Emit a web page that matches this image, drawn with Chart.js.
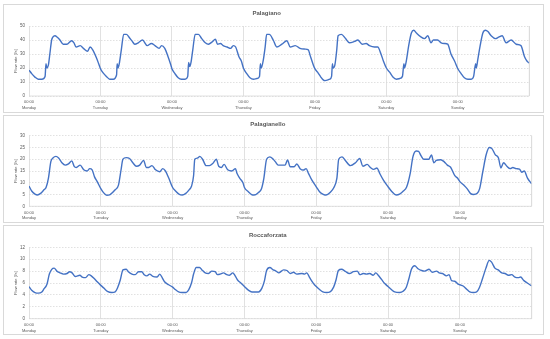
<!DOCTYPE html>
<html>
<head>
<meta charset="utf-8">
<script src="https://cdn.jsdelivr.net/npm/chart.js@4.4.1/dist/chart.umd.min.js"></script>
<style>
  html, body { margin: 0; padding: 0; background: #ffffff; }
  body { width: 550px; height: 339px; position: relative; overflow: hidden; }
  .panel { position: absolute; left: 3px; width: 539px; border: 1px solid #d9d9d9; background: #fff; }
  .panel canvas { display: block; }
</style>
</head>
<body>
<div class="panel" style="top:4px;height:107px;"><canvas id="c1" width="539" height="107"></canvas></div>
<div class="panel" style="top:115px;height:106px;"><canvas id="c2" width="539" height="106"></canvas></div>
<div class="panel" style="top:225px;height:108px;"><canvas id="c3" width="539" height="108"></canvas></div>
<script>
// ---- categories / tick labels ----
const dayNames = ['Monday', 'Tuesday', 'Wednesday', 'Thursday', 'Friday', 'Saturday', 'Sunday'];
const timeLabel = '00:00';
const titles = ['Palagiano', 'Palagianello', 'Roccaforzata'];
const yAxisTitle = 'Flow rate [l/s]';

// ---- Palagiano (hours from Monday 00:00, flow l/s) ----
const palagianoTime = [
  0, 0.9, 2, 3.1, 4.3, 5.4, 5.7, 6, 6.5, 7, 7.6, 8, 8.7, 9.5, 10.4, 11.5, 12.7, 14.3, 15.1, 15.8, 17.2, 18.3, 19.7, 20.5, 21.4, 22.7, 23.4,
  24, 24.9, 26, 27.1, 28.3, 29.4, 29.6, 29.9, 30.3, 31, 31.8, 32.7, 33.6, 34.7, 35.5, 36.7, 38.1, 39.7, 41.1, 42.3, 43.7, 44.5, 45.6, 46.7, 47.5,
  48, 49, 50.1, 51.2, 52.4, 53.3, 53.6, 54, 54.4, 55, 55.8, 56.9, 58, 59.2, 60.3, 61.4, 62.6, 63.3, 64.3, 65.2, 66.5, 67.7, 68.6, 69.4, 70.5, 71.3,
  72, 73.1, 74.2, 75.4, 76.5, 77.4, 77.7, 78, 78.7, 79.3, 79.8, 80.7, 82, 83.2, 84.9, 86.6, 87.7, 89.4, 91, 92.7, 93.8, 94.4, 95.5,
  96, 96.9, 98, 98.8, 99.4, 101, 101.6, 101.9, 102.1, 102.7, 103.3, 103.8, 104.9, 106.3, 107.6, 109.3, 110.4, 111.9, 113.2, 114.3, 116, 117.1, 118.2, 119,
  120, 121.1, 122.2, 123.4, 124.5, 125.4, 125.9, 126.1, 126.7, 127.5, 128.4, 129.2, 130.1, 131.7, 132.8, 133.9, 135, 135.8, 137.2, 138.4, 139.5, 140.6, 141.7, 142.9,
  144, 145.1, 146.2, 147.4, 148.5, 149.3, 150, 150.2, 150.7, 151.5, 152.4, 153.3, 154.1, 155.2, 156.6, 157.7, 158.9, 160.2, 161.9, 163.6, 165.2, 166.4, 167.2, 168
];
const palagianoFlow = [
  18.5, 16, 13.5, 12, 12, 14, 23, 20, 22, 30, 40, 42, 43, 42, 40, 37, 37, 39.5, 38, 35, 36, 34, 32, 35, 33, 27, 23,
  19.5, 16.5, 14, 12, 12, 15, 23, 20, 23, 33, 44, 44, 42, 39, 37, 38, 40, 36, 37.5, 36, 34, 36, 34, 28, 23,
  19.5, 16, 13, 12, 12, 14, 24, 21, 24, 33, 44, 44, 41, 38, 37, 38.5, 40.5, 37, 37.5, 36, 35, 34, 36, 35, 28, 25,
  20, 16, 13, 12, 12.5, 14, 23, 20, 26, 35, 44, 44, 40, 35, 37, 39.5, 35, 36, 34, 33.5, 33, 29, 22,
  19.5, 17, 13.5, 11.5, 11, 12, 14, 23, 20, 22, 32, 43, 44, 41, 38, 39, 40, 37, 37.5, 36, 35, 35, 30, 25,
  20, 17, 13.5, 12, 12.5, 14, 23, 20, 25, 36, 45, 47, 45, 42, 41, 43, 38, 40, 40, 38, 37.5, 37, 30, 25,
  19.5, 16, 13, 12, 12, 14, 23, 20, 26, 36, 45, 47, 46, 43, 41, 42, 43, 38, 40, 37, 36, 28, 25, 23.5
];

// ---- Palagianello ----
const palagianelloTime = [
  0, 0.9, 2, 2.8, 3.9, 5, 5.7, 6.5, 7.3, 8, 9, 9.9, 11, 12.1, 13.2, 14.3, 15.1, 15.8, 17.1, 18.3, 19.4, 20.3, 21.1, 21.9, 22.8,
  24, 24.9, 26, 27.1, 28.8, 29.9, 30.7, 31.4, 32.5, 33.6, 34.7, 35.9, 37, 38.3, 39.2, 40, 41.1, 42.3, 43.7, 44.7, 45.6, 46.7,
  48, 49, 50.1, 51.2, 52.4, 53.5, 54.3, 55, 55.4, 56.3, 57.1, 58, 59.2, 60.3, 61.4, 62.6, 63.4, 64.3, 65.2, 66.4, 67.8, 69, 69.5, 70.4, 71.5,
  72, 73.3, 74.4, 75.2, 76.6, 77.7, 78.5, 79.4, 80.5, 81.6, 82.3, 83.3, 85.6, 86.4, 87.3, 88.6, 89.5, 90.6, 91.7, 92.6, 93.4, 94.5,
  96, 97.1, 98.5, 99.3, 100.7, 101.8, 102.9, 103.5, 104.6, 105.7, 107.4, 109.1, 110.5, 111.6, 113, 114.1, 115.2, 116.3, 117.2, 118.5,
  120, 121.3, 122.7, 124, 125.1, 126.2, 127.4, 128.3, 129.4, 130.2, 131, 131.9, 133.6, 134.5, 135.3, 136.1, 137.6, 138.7, 139.8, 140.9, 142.3, 143.2,
  144, 145.3, 146.4, 147.5, 148.6, 149.8, 150.6, 151.7, 152.8, 153.8, 154.7, 155.8, 156.9, 157.7, 158.6, 159.7, 160.8, 161.7, 162.8, 163.9, 164.7, 165.5, 166.6, 168
];
const palagianelloFlow = [
  8.6, 6.5, 5.2, 4.8, 5.5, 7, 8, 12, 19, 20.5, 21.2, 20.5, 18.5, 17.5, 18, 19.3, 17, 16.5, 17.5, 15.5, 15, 16, 15.5, 12.5, 10.5,
  7.5, 5.8, 4.7, 5, 7, 9, 15, 20, 20.7, 20.3, 18.5, 17, 17.5, 19.5, 16.5, 16.5, 17.3, 15.5, 14.7, 16, 15, 12,
  8, 6.5, 5.2, 4.8, 5.5, 7, 8.5, 13, 20, 20.5, 21.2, 20, 17.3, 17.3, 18.2, 20, 17, 16.5, 17.8, 15.5, 15, 16, 14, 12, 10,
  8, 6.2, 5, 4.8, 5.8, 7.5, 12, 20, 21, 20, 19, 17.5, 17.5, 19.7, 16.8, 16.8, 18, 16, 15.4, 16, 14, 11.2,
  8.3, 6.2, 5, 4.8, 6, 7.8, 12, 20, 21, 19.5, 17.3, 18.5, 20.3, 17, 17.8, 16.5, 15.7, 16.3, 14, 11,
  8.3, 6.2, 4.8, 5.3, 6.5, 8.2, 14, 21, 23.5, 23.3, 21.5, 20, 20, 21.8, 18.5, 19.5, 19.8, 19, 17.5, 16.6, 13, 12,
  10.5, 9, 7.5, 5.5, 5, 5.5, 7.5, 15, 22, 25, 24.5, 22, 20.5, 16.3, 18.5, 17, 16, 16.5, 16, 15.8, 14.5, 15, 12, 9.5
];

// ---- Roccaforzata ----
const roccaforzataTime = [
  0, 0.9, 2, 3.1, 4.3, 5, 6, 6.8, 7.6, 8.4, 9.3, 10.4, 11.5, 12.7, 13.6, 14.4, 15.5, 17, 17.8, 18.9, 20, 20.8, 21.7, 22.8,
  24, 25.1, 26.2, 27.7, 28.8, 29.6, 30.5, 31.4, 32.5, 33.2, 34.4, 35.5, 36.6, 37.7, 38.5, 39.4, 40.3, 41.4, 42.8, 43.7, 44.5, 45.3, 46.7,
  48, 48.9, 50, 51.1, 52.5, 53.4, 54.3, 55, 55.9, 57, 57.8, 58.9, 60, 61.1, 62.2, 63, 63.9, 65, 66.1, 67, 68.1, 68.9, 69.7, 70.8,
  72, 73.3, 74.5, 75.6, 76.7, 77.8, 78.7, 79.4, 80.5, 81.6, 82.3, 83.4, 85.1, 86.2, 87.3, 88.4, 89.5, 91.2, 92.1, 92.8, 93.9, 95.1,
  96, 97.1, 98.2, 99.5, 100.6, 101.8, 102.6, 103.4, 104.5, 105.6, 107.1, 108.4, 109.7, 110.6, 111.7, 112.8, 113.9, 115, 115.9, 116.7, 117.8, 118.9,
  120, 121.1, 122.2, 123.9, 125, 126.1, 127, 127.8, 128.9, 130, 131.2, 132.3, 133.7, 134.8, 136.2, 137.1, 138.2, 139.5, 140.4, 141.2, 142.3, 143.4,
  144, 145.1, 146.2, 147.3, 148.5, 149.6, 150.5, 151.6, 152.7, 153.8, 154.6, 155.7, 156.8, 158, 159.1, 160.2, 161.3, 162.4, 163.5, 164.3, 165.4, 166.5, 168
];
const roccaforzataFlow = [
  5.4, 4.8, 4.4, 4.3, 4.5, 5, 5.8, 7.5, 8.3, 8.5, 8, 7.7, 7.5, 7.6, 7.9, 7.7, 7.1, 7.3, 7.0, 6.9, 7.4, 7.2, 6.8, 6.2,
  5.6, 5.1, 4.6, 4.4, 4.5, 5.2, 6.5, 8.2, 8.3, 7.9, 7.5, 7.4, 7.9, 7.9, 7.4, 7.2, 7.5, 7.1, 7.0, 7.5, 6.9, 6.2, 5.7,
  5.3, 4.9, 4.5, 4.4, 4.4, 4.9, 6, 7.5, 8.6, 8.6, 8.2, 7.7, 7.6, 8, 7.9, 7.4, 7.5, 7.7, 7.4, 7.3, 7.7, 7.2, 6.5, 6,
  5.4, 4.8, 4.5, 4.5, 4.5, 5.1, 6.4, 8.1, 8.6, 8.2, 8.1, 7.7, 8.2, 8.1, 7.6, 7.8, 7.5, 7.6, 7.5, 7.7, 6.8, 5.9,
  5.4, 4.9, 4.5, 4.4, 4.5, 5.3, 6.5, 8.1, 8.3, 8.0, 7.6, 7.9, 8.0, 7.4, 7.6, 7.5, 7.6, 7.3, 7.7, 7.3, 6.6, 5.9,
  5.4, 4.9, 4.5, 4.4, 4.6, 5.3, 6.8, 8.3, 8.9, 8.4, 8.1, 8.0, 8.3, 7.8, 8.0, 7.7, 7.6, 7.2, 7.4, 6.4, 6.3, 5.8,
  5.7, 5.5, 5.0, 4.5, 4.4, 4.5, 5.2, 6.8, 8.5, 9.8, 9.5, 8.5, 8.2, 7.7, 7.6, 7.3, 7.4, 7.0, 6.9, 7.0, 6.4, 6.0, 5.5
];

// ---- y-axis ranges ----
const yMax = [50, 30, 12];
const yStep = [10, 5, 2];

const FONT = "'Liberation Sans', Arial, sans-serif";
const TEXT = '#595959';
const GRID = '#d9d9d9';
const LINE = '#4472c4';

function makeChart(id, idx, times, flows, geo) {
  const pts = times.map((t, i) => ({ x: t, y: flows[i] }));
  return new Chart(document.getElementById(id), {
    type: 'line',
    data: { datasets: [{ data: pts, borderColor: LINE, borderWidth: 1.4, pointRadius: 0, tension: 0.3, cubicInterpolationMode: 'monotone', fill: false }] },
    options: {
      responsive: false, animation: false, events: [],
      layout: { padding: { left: 0, right: geo.right, top: 0, bottom: 0 } },
      plugins: {
        legend: { display: false }, tooltip: { enabled: false },
        title: { display: true, text: titles[idx], color: TEXT, font: { family: FONT, size: 6, weight: 'bold' }, padding: { top: geo.tTop, bottom: geo.tBot } }
      },
      scales: {
        x: {
          type: 'linear', min: 0, max: 168,
          afterFit: s => { s.height = geo.xh; },
          grid: { color: GRID, lineWidth: 0.8, drawTicks: false },
          border: { display: false },
          ticks: {
            stepSize: 24, autoSkip: false, maxRotation: 0, padding: geo.xpad, color: TEXT,
            font: { family: FONT, size: 4, lineHeight: 1.35 },
            callback: v => (v < 168 ? [timeLabel, dayNames[Math.round(v / 24)]] : '')
          }
        },
        y: {
          min: 0, max: yMax[idx],
          afterFit: s => { s.width = 25; },
          grid: { color: GRID, lineWidth: 0.8, drawTicks: false },
          border: { display: false, dash: [1.5, 1.5] },
          ticks: { stepSize: yStep[idx], padding: 4, color: TEXT, font: { family: FONT, size: 4.5 } },
          title: { display: true, text: yAxisTitle, color: TEXT, font: { family: FONT, size: 4 }, padding: { top: 9, bottom: 0 } }
        }
      }
    },
    plugins: [{
      id: 'frame',
      afterDraw(c) {
        const a = c.chartArea, ctx = c.ctx;
        ctx.save(); ctx.strokeStyle = GRID; ctx.lineWidth = 0.8;
        ctx.beginPath(); ctx.moveTo(a.right, a.top); ctx.lineTo(a.right, a.bottom); ctx.lineTo(a.left, a.bottom); ctx.stroke();
        ctx.restore();
      }
    }]
  });
}

makeChart('c1', 0, palagianoTime, palagianoFlow, { right: 13.7, tTop: 4.4, tBot: 9.4, xh: 16, xpad: 3.6 });
makeChart('c2', 1, palagianelloTime, palagianelloFlow, { right: 11.3, tTop: 4.4, tBot: 8.1, xh: 15.7, xpad: 3.6 });
makeChart('c3', 2, roccaforzataTime, roccaforzataFlow, { right: 11.3, tTop: 5.4, tBot: 8.7, xh: 15.3, xpad: 3.6 });
</script>
</body>
</html>
